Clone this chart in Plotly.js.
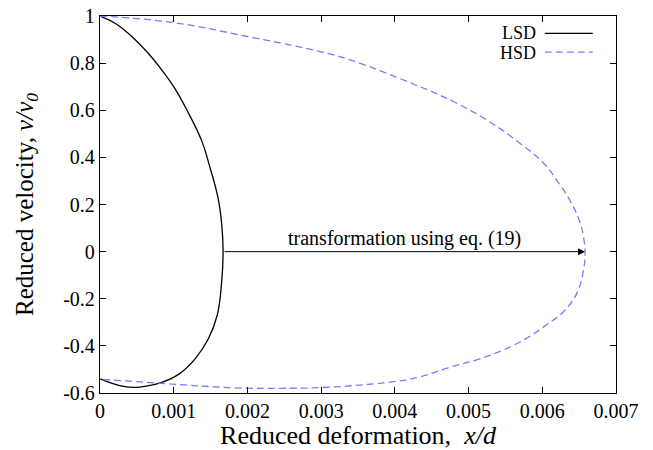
<!DOCTYPE html>
<html>
<head>
<meta charset="utf-8">
<script src="https://cdn.plot.ly/plotly-3.0.1.min.js"></script>
<style>
  html, body { margin: 0; padding: 0; background: #ffffff; }
  #chart { width: 653px; height: 450px; }
</style>
</head>
<body>
<div id="chart"></div>
<script>
// LSD curve (reduced deformation x/d, reduced velocity v/v0)
const lsdX = [0, 0.00021, 0.00039, 0.00066, 0.00084, 0.001, 0.00118, 0.00138, 0.00148, 0.0016, 0.00165, 0.00167,
              0.00165, 0.00159, 0.00147, 0.00129, 0.00107, 0.00084, 0.00061, 0.00048, 0.0003, 0.000115, 0];
const lsdV = [1, 0.968, 0.925, 0.84, 0.77, 0.70, 0.60, 0.47, 0.37, 0.23, 0.12, 0,
              -0.13, -0.27, -0.37, -0.455, -0.52, -0.555, -0.572, -0.576, -0.571, -0.554, -0.54];

// HSD curve
const hsdX = [0, 0.001, 0.002, 0.003, 0.00337, 0.00434, 0.0048, 0.00525, 0.0057, 0.00602, 0.00624, 0.00637, 0.0065, 0.00656, 0.00658,
              0.00656, 0.00647, 0.00629, 0.00606, 0.00579, 0.00548, 0.00511, 0.00471, 0.00434, 0.00403, 0.00358,
              0.003, 0.00245, 0.00183, 0.00084, 0];
const hsdV = [1, 0.972, 0.913, 0.848, 0.816, 0.70, 0.636, 0.558, 0.459, 0.374, 0.283, 0.22, 0.134, 0.06, 0,
              -0.077, -0.176, -0.254, -0.31, -0.367, -0.416, -0.459, -0.494, -0.532, -0.55, -0.565,
              -0.577, -0.58, -0.578, -0.559, -0.542];

const seriesNames = ['LSD', 'HSD'];
const xTicks = [0, 0.001, 0.002, 0.003, 0.004, 0.005, 0.006, 0.007];
const xTickText = ['0', '0.001', '0.002', '0.003', '0.004', '0.005', '0.006', '0.007'];
const yTicks = [-0.6, -0.4, -0.2, 0, 0.2, 0.4, 0.6, 0.8, 1];
const yTickText = ['-0.6', '-0.4', '-0.2', '0', '0.2', '0.4', '0.6', '0.8', '1'];
const arrowLabel = 'transformation using eq. (19)';

const blue = '#7b7bff';
const FONT = 'Liberation Serif, Times New Roman, serif';

const traces = [
  { x: lsdX, y: lsdV, mode: 'lines', name: seriesNames[0],
    line: { color: '#000000', width: 1.3, shape: 'spline', smoothing: 1.2 } },
  { x: hsdX, y: hsdV, mode: 'lines', name: seriesNames[1],
    line: { color: blue, width: 1.3, dash: '7px,4px', shape: 'spline', smoothing: 1.2 } }
];

const lsdMaxX = Math.max(...lsdX);
const hsdMaxX = Math.max(...hsdX);

const axisCommon = {
  showline: true, linecolor: '#000000', linewidth: 1.2,
  mirror: 'ticks', ticks: 'inside', ticklen: 6, tickwidth: 1, tickcolor: '#000000',
  showgrid: false, zeroline: false,
  tickfont: { family: FONT, size: 20, color: '#000000' }
};

const layout = {
  width: 653, height: 450,
  paper_bgcolor: '#ffffff', plot_bgcolor: '#ffffff',
  margin: { l: 100, r: 37, t: 16, b: 57 },
  showlegend: false,
  xaxis: Object.assign({}, axisCommon, {
    range: [0, 0.007], tickvals: xTicks, ticktext: xTickText,
    title: { text: 'Reduced deformation,  <i>x/d</i>', font: { family: FONT, size: 26, color: '#000000' }, standoff: 5 }
  }),
  yaxis: Object.assign({}, axisCommon, {
    range: [-0.6, 1], tickvals: yTicks, ticktext: yTickText,
    title: { text: 'Reduced velocity, <i>v/v<sub>0</sub></i>', font: { family: FONT, size: 25, color: '#000000' }, standoff: 22 }
  }),
  annotations: [
    { x: hsdMaxX, y: 0, ax: lsdMaxX, ay: 0, xref: 'x', yref: 'y', axref: 'x', ayref: 'y',
      showarrow: true, arrowhead: 2, arrowsize: 1.4, arrowwidth: 1, arrowcolor: '#000000', standoff: 0, text: '' },
    { x: (lsdMaxX + hsdMaxX) / 2, y: 0, xref: 'x', yref: 'y', yanchor: 'bottom', yshift: 0,
      showarrow: false, text: arrowLabel, font: { family: FONT, size: 20, color: '#000000' } },
    { x: 0.847, y: 0.956, xref: 'paper', yref: 'paper', xanchor: 'right', yanchor: 'middle', borderpad: 0,
      showarrow: false, text: seriesNames[0], font: { family: FONT, size: 18, color: '#000000' } },
    { x: 0.847, y: 0.903, xref: 'paper', yref: 'paper', xanchor: 'right', yanchor: 'middle', borderpad: 0,
      showarrow: false, text: seriesNames[1], font: { family: FONT, size: 18, color: '#000000' } }
  ],
  shapes: [
    { type: 'line', xref: 'paper', yref: 'paper', x0: 0.862, x1: 0.955, y0: 0.954, y1: 0.954,
      line: { color: '#000000', width: 1.3 } },
    { type: 'line', xref: 'paper', yref: 'paper', x0: 0.862, x1: 0.955, y0: 0.904, y1: 0.904,
      line: { color: blue, width: 1.3, dash: '7px,4px' } }
  ]
};

Plotly.newPlot('chart', traces, layout, { staticPlot: true, displayModeBar: false });
</script>
</body>
</html>
